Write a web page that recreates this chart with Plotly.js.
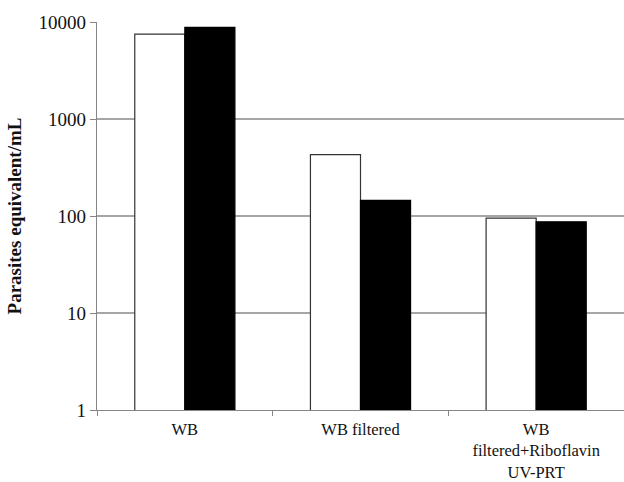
<!DOCTYPE html>
<html>
<head>
<meta charset="utf-8">
<script src="https://cdn.plot.ly/plotly-3.0.1.min.js"></script>
<style>html,body{margin:0;padding:0;background:#fff;}#chart{width:624px;height:482px;}</style>
</head>
<body>
<div id="chart"></div>
<script>
const categories = ["WB", "WB filtered", "WB<br>filtered+Riboflavin<br>UV-PRT"];
const seriesWhite = [7500, 430, 95];
const seriesBlack = [8800, 145, 87];
const yTickVals = [1, 10, 100, 1000, 10000];
const yTickText = ["1", "10", "100", "1000", "10000"];
const yTitle = "Parasites equivalent/mL";

const font = "Liberation Serif, Times New Roman, serif";

const traces = [
  {type: "bar", x: categories, y: seriesWhite, name: "A",
   marker: {color: "#ffffff", line: {color: "#333333", width: 1.2}}},
  {type: "bar", x: categories, y: seriesBlack, name: "B",
   marker: {color: "#000000", line: {color: "#000000", width: 1.2}}}
];

const layout = {
  width: 624, height: 482,
  margin: {l: 97, r: 0, t: 22, b: 72, pad: 0},
  paper_bgcolor: "#fff", plot_bgcolor: "#fff",
  showlegend: false,
  barmode: "group",
  bargap: 0.43, bargroupgap: 0,
  font: {family: font, size: 17, color: "#111"},
  xaxis: {
    type: "category", range: [-0.5, 2.5],
    showgrid: false, showline: true, linecolor: "#868686", linewidth: 1.2,
    ticks: "outside", tickson: "boundaries", ticklen: 5, tickcolor: "#868686",
    ticklabelstandoff: 4,
    tickfont: {family: font, size: 16.5, color: "#111"},
    automargin: false
  },
  yaxis: {
    type: "log", range: [0, 4],
    tickvals: yTickVals, ticktext: yTickText,
    showgrid: true, gridcolor: "#a6a6a6", gridwidth: 1.2,
    showline: true, linecolor: "#868686", linewidth: 1.2,
    ticks: "outside", ticklen: 6, tickcolor: "#868686",
    tickfont: {family: font, size: 19, color: "#111"},
    zeroline: false,
    title: {text: "<b>" + yTitle + "</b>", font: {family: font, size: 19, color: "#111"}, standoff: 11},
    automargin: false
  }
};

Plotly.newPlot("chart", traces, layout, {displayModeBar: false, staticPlot: true});
</script>
</body>
</html>
